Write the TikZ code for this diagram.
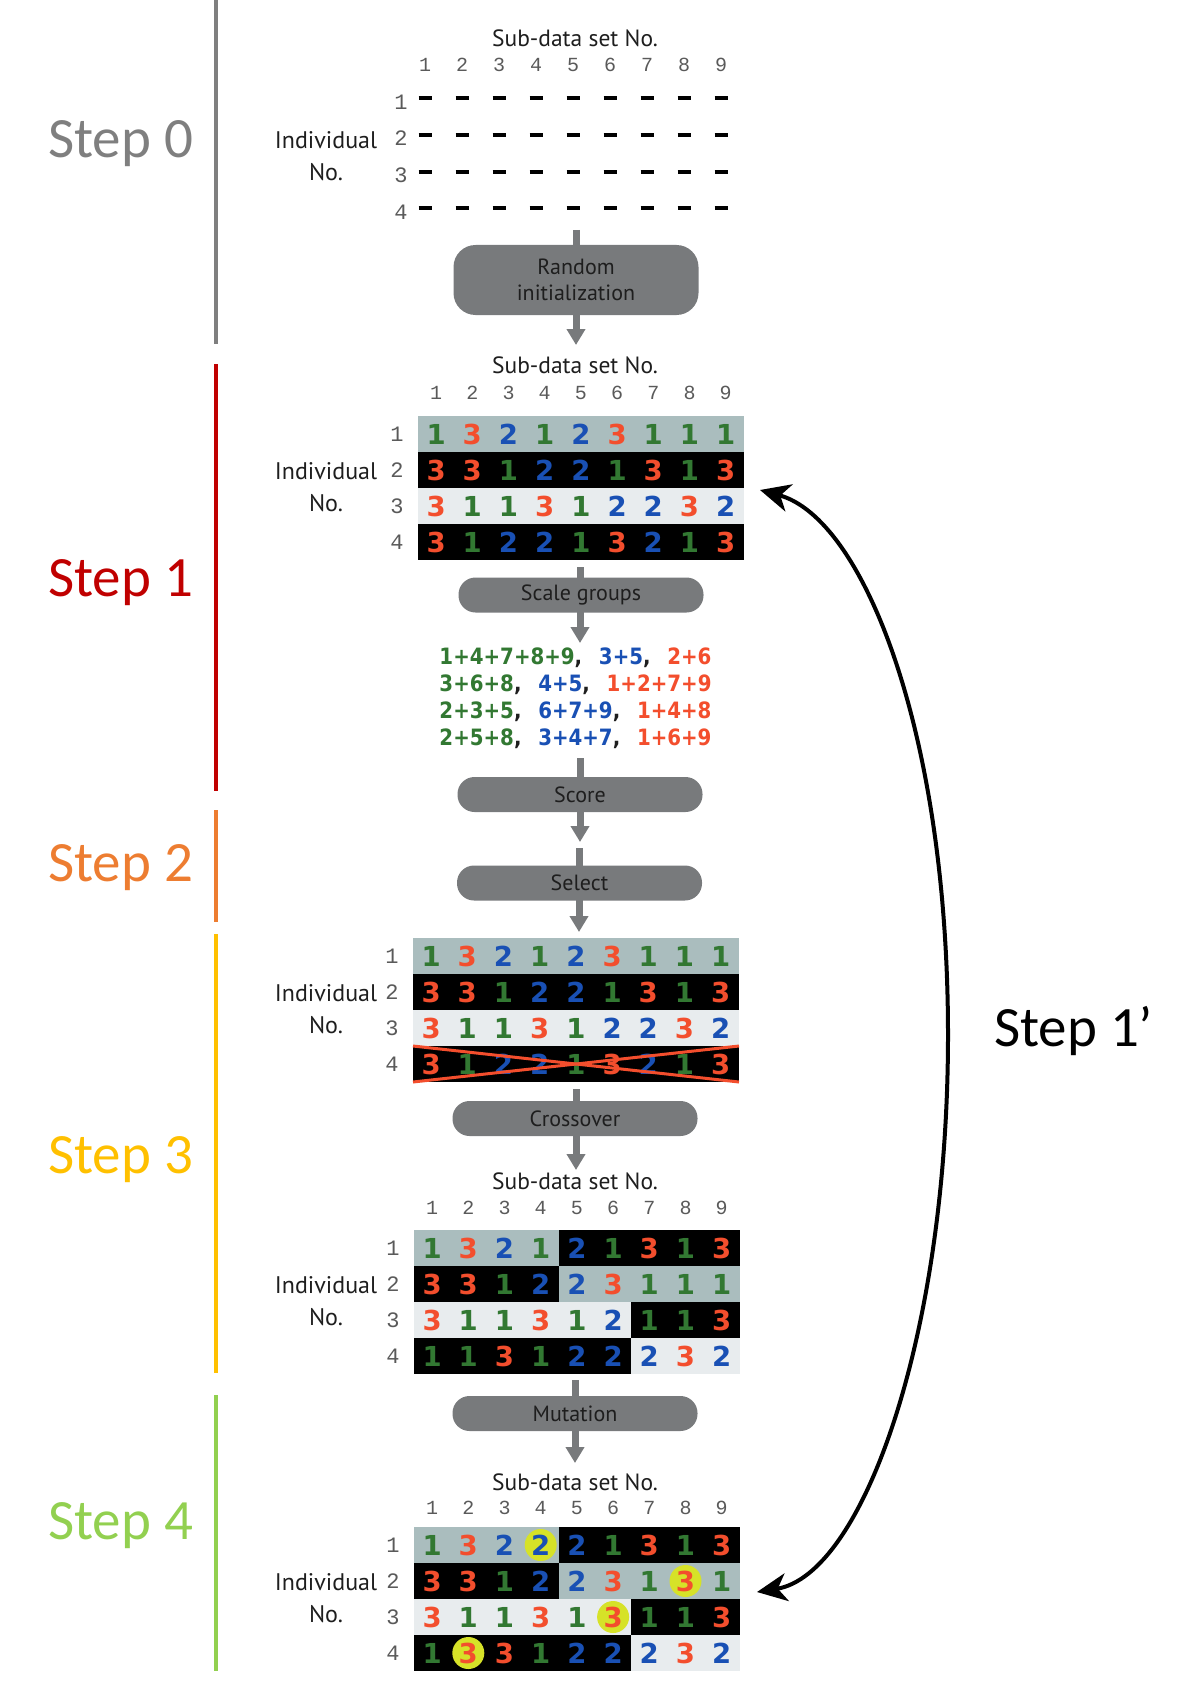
\documentclass[tikz,border=0pt]{standalone}
\usepackage{fontspec}
\usepackage{graphicx}
\setmainfont{PT Sans}
\newfontfamily\stepfont{Carlito}
\newfontfamily\celldig{DejaVu Sans}
\newfontfamily\monodig{Liberation Mono}
\usetikzlibrary{arrows.meta}

\definecolor{boxgray}{RGB}{120,122,124}
\definecolor{dgreen}{RGB}{50,120,50}
\definecolor{dblue}{RGB}{25,80,180}
\definecolor{dred}{RGB}{243,78,45}
\definecolor{rowteal}{RGB}{170,189,190}
\definecolor{rowlight}{RGB}{232,236,238}
\definecolor{mutyellow}{RGB}{214,226,40}
\definecolor{labgray}{RGB}{90,90,90}
\definecolor{txt}{RGB}{30,30,30}
\definecolor{s0}{RGB}{127,127,127}
\definecolor{s1}{RGB}{192,0,0}
\definecolor{s2}{RGB}{237,125,49}
\definecolor{s3}{RGB}{255,192,0}
\definecolor{s4}{RGB}{146,208,80}
\colorlet{d1}{dgreen}
\colorlet{d2}{dblue}
\colorlet{d3}{dred}

\newcommand\cellrow[5]{%
  \foreach \dd [count=\cc] in {#5} {
    \node[cellnum, text=d\dd] (#1-\cc-#4) at ({#2+(\cc-0.5)*36.2},{#3+18+36*(#4-1)}) {\dd};
  }}
\newcommand\cellfill[6]{%
  \fill[#1] ({#2+(#5-1)*36.2},{#3+36*(#4-1)}) rectangle ({#2+#6*36.2},{#3+36*#4});}
\newcommand\gridlabels[3]{%
  \foreach \r in {1,2,3,4} {
    \node[rownum] (#1-r\r) at ({#2-21},{#3+18+36*(\r-1)}) {\r};
  }
  \node[sidelab] (#1-ind) at (326,{#3+55}) {Individual};
  \node[sidelab] (#1-no) at (326,{#3+87}) {No.};}
\newcommand\header[4]{%
  \node[subhead] (#1-title) at (575,#3) {Sub-data set No.};
  \foreach \cc in {1,...,9} {
    \node[colnum] (#1-c\cc) at ({#2+(\cc-0.5)*36.2},#4) {\cc};
  }}
\newcommand\fl[3]{\scalebox{0.88}[1]{\textcolor{dgreen}{#1}\textcolor{txt}{,}\hspace{19pt}\textcolor{dblue}{#2}\textcolor{txt}{,}\hspace{19pt}\textcolor{dred}{#3}}}

\begin{document}
\begin{tikzpicture}[x=1pt,y=-1pt,
  cellnum/.style={font=\celldig\bfseries\fontsize{27.5}{27.5}\selectfont, inner sep=0pt},
  rownum/.style={font=\monodig\fontsize{22}{22}\selectfont, text=labgray, inner sep=0pt},
  colnum/.style={font=\monodig\fontsize{20}{20}\selectfont, text=labgray, inner sep=0pt},
  subhead/.style={font=\fontsize{23.5}{23.5}\selectfont, text=txt, inner sep=0pt},
  sidelab/.style={font=\fontsize{24}{24}\selectfont, text=txt, inner sep=0pt},
  proc/.style={fill=boxgray, rounded corners=17pt, minimum width=245pt, minimum height=35pt,
    text=txt, font=\fontsize{22}{26}\selectfont, inner sep=0pt, align=center},
  procbig/.style={proc, minimum height=70pt, rounded corners=22pt},
  flow/.style={draw=boxgray, line width=7pt, -{Triangle[length=16pt,width=18pt]}},
  dashmark/.style={draw=black, line width=3.5pt},
  xmark/.style={draw=dred, line width=3pt},
  stepbar/.style={line width=4.7pt},
  steplab/.style={font=\stepfont\fontsize{57}{62}\selectfont, inner sep=0pt, anchor=base west},
  formula/.style={font=\celldig\bfseries\fontsize{22.5}{22.5}\selectfont, inner sep=0pt},
  loopline/.style={line width=4pt, black,
    {Stealth[length=30pt,width=28pt,inset=9pt]}-{Stealth[length=30pt,width=28pt,inset=9pt]}}
]
\useasboundingbox (0,0) rectangle (1181,1688);

% ---- step bars and labels
\draw[stepbar, s0] (216,0) -- (216,344);
\draw[stepbar, s1] (216,364) -- (216,791);
\draw[stepbar, s2] (216,810) -- (216,922);
\draw[stepbar, s3] (216,934) -- (216,1373);
\draw[stepbar, s4] (216,1395) -- (216,1671);
\node[steplab, text=s0] (st0) at (48,158) {Step 0};
\node[steplab, text=s1] (st1) at (48,596) {Step 1};
\node[steplab, text=s2] (st2) at (48,881) {Step 2};
\node[steplab, text=s3] (st3) at (48,1173) {Step 3};
\node[steplab, text=s4] (st4) at (48,1539) {Step 4};
\node[steplab, text=black] (st1p) at (994,1046) {Step 1’};

% ---- Step 0 grid (empty)
\node[subhead] (g0-title) at (575,38) {Sub-data set No.};
\foreach \cc in {1,...,9} {
  \node[colnum] (g0-c\cc) at ({388+37*\cc},65) {\cc};
  \foreach \yy in {98,135,172,208} {
    \draw[dashmark] ({388+37*\cc-6.5},\yy) -- ++(13,0);
  }
}
\foreach \r/\yy in {1/102,2/138,3/175,4/212} {
  \node[rownum] (g0-r\r) at (401,\yy) {\r};
}
\node[sidelab] (g0-ind) at (326,140) {Individual};
\node[sidelab] (g0-no) at (326,172) {No.};

\coordinate (f1s) at (576,230);
\coordinate (f1e) at (576,345);
\draw[flow] (f1s) -- (f1e);
\node[procbig] (rand) at (576,280) {Random\\initialization};

% ---- Step 1 grid A
\header{gA}{418}{365}{393}
\fill[rowteal] (418,416) rectangle (744,452);
\fill[black] (418,452) rectangle (744,488);
\fill[rowlight] (418,488) rectangle (744,524);
\fill[black] (418,524) rectangle (744,560);
\gridlabels{gA}{418}{416}
\cellrow{gA}{418}{416}{1}{1,3,2,1,2,3,1,1,1}
\cellrow{gA}{418}{416}{2}{3,3,1,2,2,1,3,1,3}
\cellrow{gA}{418}{416}{3}{3,1,1,3,1,2,2,3,2}
\cellrow{gA}{418}{416}{4}{3,1,2,2,1,3,2,1,3}

\coordinate (f2s) at (580,567);
\coordinate (f2e) at (580,643);
\draw[flow] (f2s) -- (f2e);
\node[proc] (scale) at (581,595) {Scale groups};

\node[formula] (fm1) at (575.5,658) {\fl{1+4+7+8+9}{3+5}{2+6}};
\node[formula] (fm2) at (575.5,685) {\fl{3+6+8}{4+5}{1+2+7+9}};
\node[formula] (fm3) at (575.5,712) {\fl{2+3+5}{6+7+9}{1+4+8}};
\node[formula] (fm4) at (575.5,739) {\fl{2+5+8}{3+4+7}{1+6+9}};

\coordinate (f3s) at (580,758);
\coordinate (f3e) at (580,842);
\draw[flow] (f3s) -- (f3e);
\node[proc] (score) at (580,794.5) {Score};

\coordinate (f4s) at (579,848);
\coordinate (f4e) at (579,932);
\draw[flow] (f4s) -- (f4e);
\node[proc] (select) at (579.5,883) {Select};

% ---- Step 3 grid B (selection)
\fill[rowteal] (413,938) rectangle (739,974);
\fill[black] (413,974) rectangle (739,1010);
\fill[rowlight] (413,1010) rectangle (739,1046);
\fill[black] (413,1046) rectangle (739,1082);
\gridlabels{gB}{413}{938}
\cellrow{gB}{413}{938}{1}{1,3,2,1,2,3,1,1,1}
\cellrow{gB}{413}{938}{2}{3,3,1,2,2,1,3,1,3}
\cellrow{gB}{413}{938}{3}{3,1,1,3,1,2,2,3,2}
\cellrow{gB}{413}{938}{4}{3,1,2,2,1,3,2,1,3}
\draw[xmark] (413,1046) -- (739,1082);
\draw[xmark] (413,1082) -- (739,1046);

\coordinate (f5s) at (576,1089);
\coordinate (f5e) at (576,1170);
\draw[flow] (f5s) -- (f5e);
\node[proc] (cross) at (575,1118.5) {Crossover};

% ---- grid C (crossover)
\header{gC}{414}{1181}{1208}
\cellfill{rowteal}{414}{1230}{1}{1}{4}
\cellfill{black}{414}{1230}{1}{5}{9}
\cellfill{black}{414}{1230}{2}{1}{4}
\cellfill{rowteal}{414}{1230}{2}{5}{9}
\cellfill{rowlight}{414}{1230}{3}{1}{6}
\cellfill{black}{414}{1230}{3}{7}{9}
\cellfill{black}{414}{1230}{4}{1}{6}
\cellfill{rowlight}{414}{1230}{4}{7}{9}
\gridlabels{gC}{414}{1230}
\cellrow{gC}{414}{1230}{1}{1,3,2,1,2,1,3,1,3}
\cellrow{gC}{414}{1230}{2}{3,3,1,2,2,3,1,1,1}
\cellrow{gC}{414}{1230}{3}{3,1,1,3,1,2,1,1,3}
\cellrow{gC}{414}{1230}{4}{1,1,3,1,2,2,2,3,2}

\coordinate (f6s) at (575,1380);
\coordinate (f6e) at (575,1463);
\draw[flow] (f6s) -- (f6e);
\node[proc] (mut) at (575,1413.5) {Mutation};

% ---- Step 4 grid D (mutation)
\header{gD}{414}{1482}{1508}
\cellfill{rowteal}{414}{1527}{1}{1}{4}
\cellfill{black}{414}{1527}{1}{5}{9}
\cellfill{black}{414}{1527}{2}{1}{4}
\cellfill{rowteal}{414}{1527}{2}{5}{9}
\cellfill{rowlight}{414}{1527}{3}{1}{6}
\cellfill{black}{414}{1527}{3}{7}{9}
\cellfill{black}{414}{1527}{4}{1}{6}
\cellfill{rowlight}{414}{1527}{4}{7}{9}
\foreach \r/\cc in {1/4,2/8,3/6,4/2} {
  \fill[mutyellow] ({414+(\cc-0.5)*36.2},{1527+18+36*(\r-1)}) circle[radius=16];
}
\gridlabels{gD}{414}{1527}
\cellrow{gD}{414}{1527}{1}{1,3,2,2,2,1,3,1,3}
\cellrow{gD}{414}{1527}{2}{3,3,1,2,2,3,1,3,1}
\cellrow{gD}{414}{1527}{3}{3,1,1,3,1,3,1,1,3}
\cellrow{gD}{414}{1527}{4}{1,3,3,1,2,2,2,3,2}

% ---- Step 1' loop arrow
\coordinate (loopTop) at (760,490);
\coordinate (loopMid) at (948,1035);
\coordinate (loopBot) at (757,1592);
\draw[loopline] (loopBot) .. controls (863,1575) and (948,1335) .. (loopMid)
  .. controls (948,731) and (863,518) .. (loopTop);
\end{tikzpicture}
\end{document}
